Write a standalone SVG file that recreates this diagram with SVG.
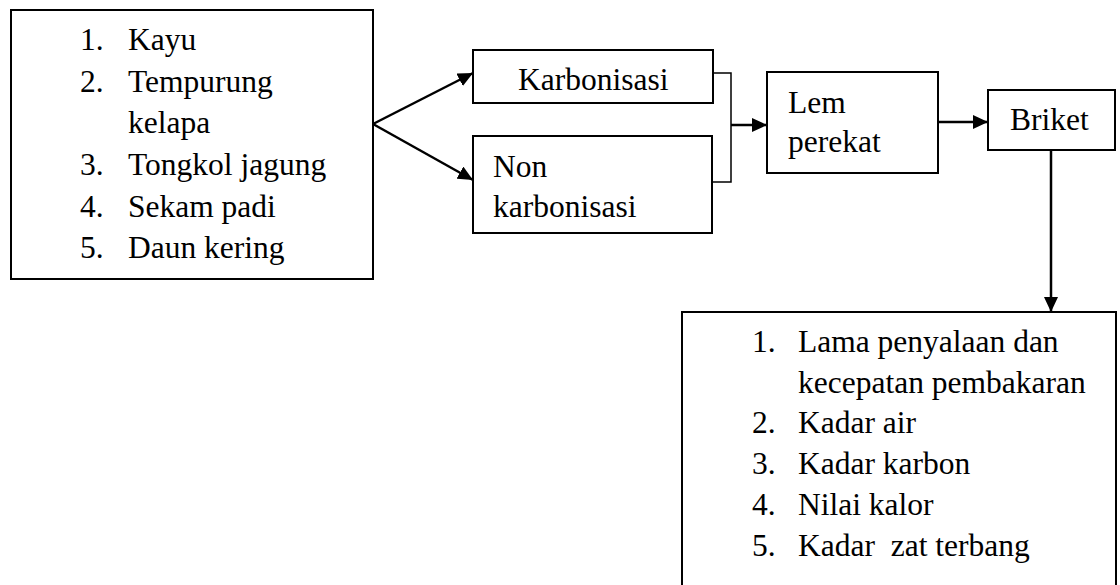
<svg xmlns="http://www.w3.org/2000/svg" width="1120" height="585" viewBox="0 0 1120 585">
<defs>
<style>
.box{fill:#fff;stroke:#000;stroke-width:2}
.t{font-family:"Liberation Serif","Times New Roman",serif;font-size:31.5px;fill:#000}
.c{fill:none;stroke:#000;stroke-width:2.5}
.b{fill:none;stroke:#000;stroke-width:1.5}
</style>
<marker id="ah2" viewBox="0 0 10 10" refX="10" refY="5" markerWidth="15" markerHeight="14" markerUnits="userSpaceOnUse" orient="auto" preserveAspectRatio="none">
<path d="M0,0 L10,5 L0,10 z" fill="#000"/>
</marker>
</defs>
<rect width="1120" height="585" fill="#fff"/>
<g id="connectors">
<line class="c" x1="373" y1="124" x2="473" y2="73" marker-end="url(#ah2)"/>
<line class="c" x1="373" y1="124" x2="473" y2="180" marker-end="url(#ah2)"/>
<polyline class="b" points="713,73 731,73 731,182 712,182"/>
<line class="c" x1="731" y1="125" x2="767" y2="125" marker-end="url(#ah2)"/>
<line class="c" x1="938" y1="122" x2="988" y2="122" marker-end="url(#ah2)"/>
<line class="c" x1="1051" y1="150" x2="1051" y2="312" marker-end="url(#ah2)"/>
</g>
<g id="bahan">
<rect class="box" x="11" y="10" width="362" height="269"/>
<text class="t" x="80" y="50">1.</text><text class="t" x="128" y="50">Kayu</text>
<text class="t" x="80" y="92">2.</text><text class="t" x="128" y="92">Tempurung</text>
<text class="t" x="128" y="133">kelapa</text>
<text class="t" x="80" y="175">3.</text><text class="t" x="128" y="175">Tongkol jagung</text>
<text class="t" x="80" y="217">4.</text><text class="t" x="128" y="217">Sekam padi</text>
<text class="t" x="80" y="258">5.</text><text class="t" x="128" y="258">Daun kering</text>
</g>
<g id="karbonisasi">
<rect class="box" x="473" y="50" width="240" height="53"/>
<text class="t" x="518" y="90">Karbonisasi</text>
</g>
<g id="nonkarbonisasi">
<rect class="box" x="473" y="136" width="239" height="97"/>
<text class="t" x="493" y="177">Non</text>
<text class="t" x="493" y="217">karbonisasi</text>
</g>
<g id="lem">
<rect class="box" x="767" y="72" width="171" height="101"/>
<text class="t" x="788" y="113">Lem</text>
<text class="t" x="788" y="152">perekat</text>
</g>
<g id="briket">
<rect class="box" x="988" y="90" width="127" height="60"/>
<text class="t" x="1010" y="130">Briket</text>
</g>
<g id="parameter">
<rect class="box" x="682" y="312" width="434" height="290"/>
<text class="t" x="752" y="352">1.</text><text class="t" x="798" y="352">Lama penyalaan dan</text>
<text class="t" x="798" y="393">kecepatan pembakaran</text>
<text class="t" x="752" y="433">2.</text><text class="t" x="798" y="433">Kadar air</text>
<text class="t" x="752" y="474">3.</text><text class="t" x="798" y="474">Kadar karbon</text>
<text class="t" x="752" y="515">4.</text><text class="t" x="798" y="515">Nilai kalor</text>
<text class="t" x="752" y="556">5.</text><text class="t" x="798" y="556" style="white-space:pre">Kadar  zat terbang</text>
</g>
</svg>
